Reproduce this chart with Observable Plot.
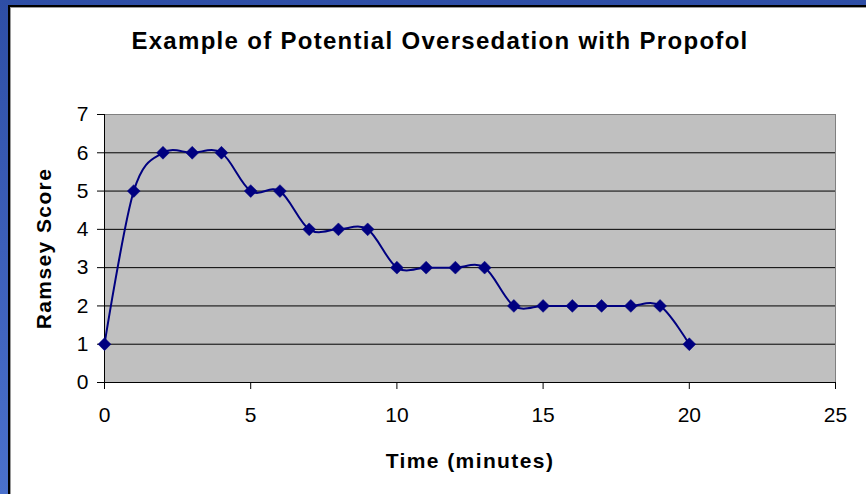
<!DOCTYPE html>
<html>
<head>
<meta charset="utf-8">
<script src="https://cdn.jsdelivr.net/npm/d3@7"></script>
<script src="https://cdn.jsdelivr.net/npm/@observablehq/plot@0.6"></script>
<style>
  html, body { margin: 0; padding: 0; }
  body { width: 866px; height: 494px; overflow: hidden; }
  #wrap { position: relative; width: 866px; height: 494px; background: linear-gradient(#2E4EA6, #4A70CC); }
  #panel { position: absolute; left: 8px; top: 5px; right: 0; bottom: 0; background: #fff;
           border-left: 2px solid #000; border-top: 2px solid #000; box-shadow: inset 1px 1px #9a9a9a; }
  #title { position: absolute; left: 0; width: 880px; top: 27px; text-align: center;
           font: bold 24px "Liberation Sans", Arial, sans-serif; line-height: 28px; letter-spacing: 1.3px; color: #000; }
  #chart { position: absolute; left: 0; top: 0; }
  #chart svg g[aria-label="x-axis label"] text,
  #chart svg g[aria-label="y-axis label"] text { font-weight: bold; letter-spacing: 1.4px; }
</style>
</head>
<body>
<div id="wrap">
  <div id="panel"></div>
  <div id="chart"></div>
  <div id="title">Example of Potential Oversedation with Propofol</div>
</div>
<script>
const time = [0,1,2,3,4,5,6,7,8,9,10,11,12,13,14,15,16,17,18,19,20];
const score = [1,5,6,6,6,5,5,4,4,4,3,3,3,3,2,2,2,2,2,2,1];
const xTicks = [0,5,10,15,20,25];
const yTicks = [0,1,2,3,4,5,6,7];
const gridLines = [1,2,3,4,5,6];

const data = time.map((t, i) => ({t, s: score[i]}));

const chart = Plot.plot({
  width: 866,
  height: 494,
  marginLeft: 104,
  marginRight: 31,
  marginTop: 114,
  marginBottom: 112,
  style: {fontFamily: '"Liberation Sans", Arial, sans-serif', fontSize: "21px", background: "transparent", color: "#000", overflow: "visible"},
  x: {domain: [0, 25]},
  y: {domain: [0, 7]},
  marks: [
    Plot.frame({fill: "#C0C0C0", stroke: "#808080"}),
    Plot.ruleY(gridLines, {stroke: "#000", strokeWidth: 1}),
    Plot.ruleX([0], {stroke: "#000"}),
    Plot.ruleY([0], {stroke: "#000"}),
    Plot.axisX({ticks: xTicks, tickFormat: d => String(d), tickSize: 7, tickPadding: 18, label: "Time (minutes)", labelAnchor: "center", labelArrow: "none", labelOffset: 85}),
    Plot.axisY({ticks: yTicks, tickFormat: d => String(d), tickSize: 7, tickPadding: 9, label: "Ramsey Score", labelAnchor: "center", labelArrow: "none", labelOffset: 68}),
    Plot.line(data, {x: "t", y: "s", stroke: "#000080", strokeWidth: 2, curve: "cardinal"}),
    Plot.dot(data, {x: "t", y: "s", symbol: "diamond2", r: 5.8, fill: "#000080", stroke: "#000080", strokeWidth: 0.5})
  ]
});
document.getElementById("chart").appendChild(chart);
</script>
</body>
</html>
